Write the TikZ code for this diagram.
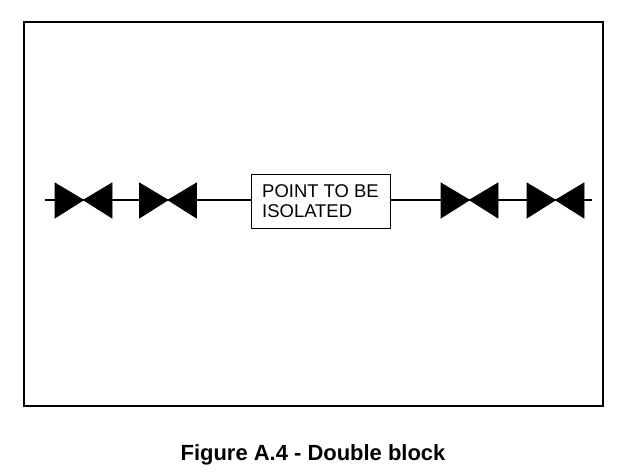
\documentclass[tikz,border=0pt]{standalone}
\usepackage{fontspec}
\setmainfont{Liberation Sans}
\usetikzlibrary{positioning}
\begin{document}
\begin{tikzpicture}[x=0.02cm,y=-0.02cm]

	\tikzstyle{valve}=[fill=black,draw=black]
	\tikzstyle{pipe}=[thick]
	\tikzstyle{label}=[rectangle,draw,thin,align=left,inner sep=1.5pt,
		minimum width=139*0.02cm,minimum height=54*0.02cm,font=\fontsize{10.5}{11}\selectfont]

	\useasboundingbox (0,0) rectangle (626,476);
	\draw[thick] (24,22) rectangle (603,406);

	\node[label](point) at (320.5,201){POINT TO BE\\ISOLATED};
	\coordinate (pipeleft) at (45,200);
	\coordinate (piperight) at (592,200);

	\draw[pipe] (pipeleft) -- (point.west|-pipeleft);
	\draw[pipe] (point.east|-piperight) -- (piperight);

	% valves
	\foreach \cx in {83.5,168,469.5,555.5}{
		\fill[valve] (\cx-28.5,183) -- (\cx,200) -- (\cx-28.5,218) -- cycle;
		\fill[valve] (\cx+28.5,183) -- (\cx,200) -- (\cx+28.5,218) -- cycle;
	}

	\node[font=\bfseries\fontsize{12.5}{14}\selectfont](caption) at (313,455){Figure A.4 - Double block};

\end{tikzpicture}
\end{document}
